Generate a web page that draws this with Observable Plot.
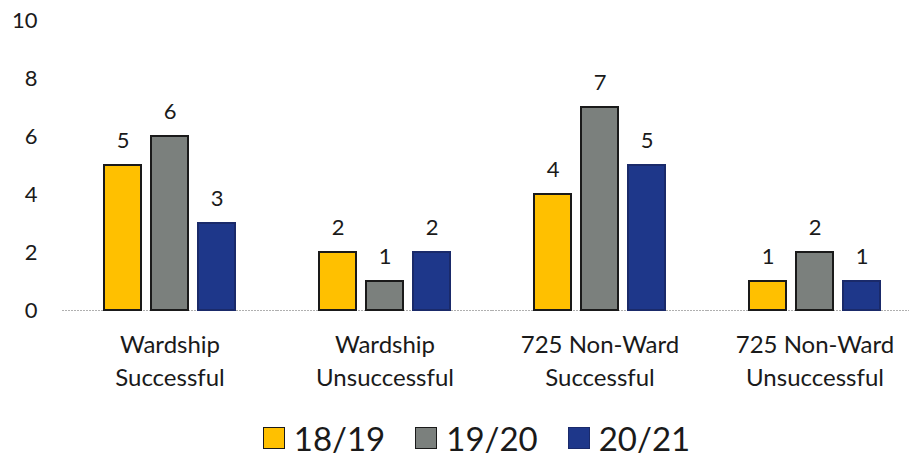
<!DOCTYPE html>
<html><head><meta charset="utf-8">
<script src="https://cdn.jsdelivr.net/npm/d3@7"></script>
<script src="https://cdn.jsdelivr.net/npm/@observablehq/plot@0.6"></script>
<style>
html,body{margin:0;padding:0;background:#fff;font-family:Lato,sans-serif;color:#1a1a1a;}
#wrap{width:909px;height:459px;overflow:hidden;}
#legend{display:flex;justify-content:center;align-items:center;height:59px;box-sizing:border-box;padding-top:17px;padding-left:44px;font-size:33px;line-height:1;}
.item{display:flex;align-items:center;margin:0 15px;}
.sw{width:20px;height:20px;border:1.5px solid #1a1a1a;margin-right:9px;box-sizing:content-box;}
</style></head><body><div id="wrap"><div id="chart"></div><div id="legend"></div></div>
<script>
const categories = ["Wardship\nSuccessful", "Wardship\nUnsuccessful", "725 Non-Ward\nSuccessful", "725 Non-Ward\nUnsuccessful"];
const seriesNames = ["18/19", "19/20", "20/21"];
const values1819 = [5, 2, 4, 1];
const values1920 = [6, 1, 7, 2];
const values2021 = [3, 2, 5, 1];
const yTicks = [0, 2, 4, 6, 8, 10];
const colors = ["#FFC000", "#7b807d", "#1e378a"];
const outlines = ["#1a1a1a", "#1a1a1a", "#1a2a6a"];

const seriesValues = [values1819, values1920, values2021];
const data = categories.flatMap((c, i) => seriesNames.map((s, j) => ({category: c, series: s, value: seriesValues[j][i]})));

const chart = Plot.plot({
  width: 909, height: 400,
  marginLeft: 60, marginRight: -14, marginTop: 20, marginBottom: 90,
  style: {fontFamily: "Lato, sans-serif", fontSize: "22px", color: "#1a1a1a", background: "transparent", overflow: "visible"},
  fx: {domain: categories, padding: 0, label: null, axis: null},
  x: {domain: seriesNames, paddingInner: 0.21, paddingOuter: 0.85, axis: null},
  y: {domain: [0, 10], label: null},
  color: {domain: seriesNames, range: colors},
  marks: [
    Plot.axisY({ticks: yTicks, tickSize: 0, tickPadding: 25, fontSize: 22, label: null}),
    Plot.axisFx({anchor: "bottom", tickSize: 0, tickPadding: 19, fontSize: 24, lineHeight: 1.38, label: null}),
    Plot.ruleY([0], {stroke: "#b0b0b0", strokeDasharray: "2,1"}),
    Plot.barY(data, {fx: "category", x: "series", y: "value", fill: "series",
      stroke: d => outlines[seriesNames.indexOf(d.series)], strokeWidth: 2}),
    Plot.text(data, {fx: "category", x: "series", y: "value", text: d => String(d.value), dy: -25, fontSize: 22})
  ]
});
document.getElementById("chart").appendChild(chart);

const legend = document.getElementById("legend");
seriesNames.forEach((s, i) => {
  const it = document.createElement("div");
  it.className = "item";
  const sw = document.createElement("span");
  sw.className = "sw";
  sw.style.background = colors[i];
  sw.style.borderColor = outlines[i];
  const t = document.createElement("span");
  t.textContent = s;
  it.appendChild(sw); it.appendChild(t);
  legend.appendChild(it);
});
</script></body></html>
